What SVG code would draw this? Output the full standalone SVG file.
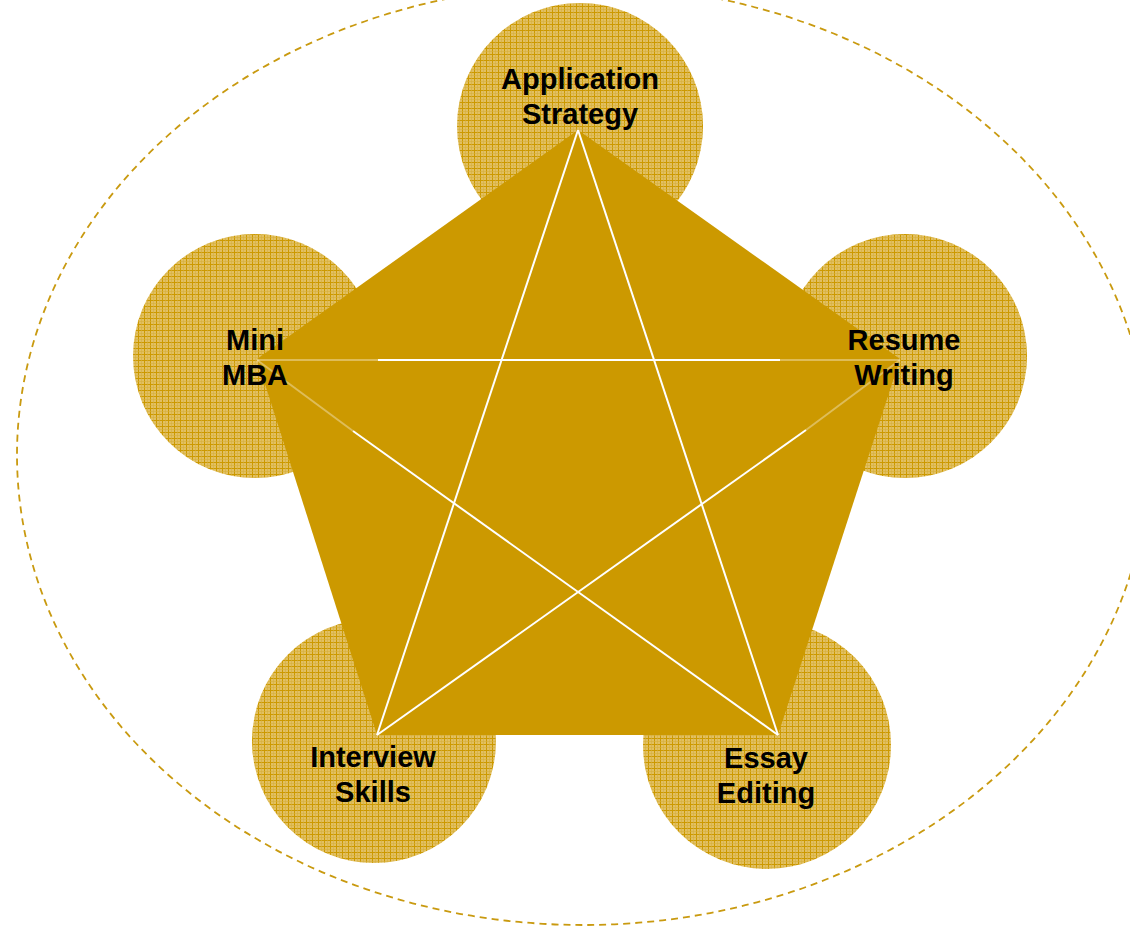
<svg xmlns="http://www.w3.org/2000/svg" width="1130" height="928" viewBox="0 0 1130 928">
<style>
.lbl{font-family:"Liberation Sans",Arial,sans-serif;font-weight:bold;font-size:29px;fill:#000;text-anchor:middle}
.circ{fill:url(#hatch)}
.star{stroke:#fff;stroke-width:2;fill:none}
.faint{stroke:#fff;stroke-width:2;stroke-opacity:0.35;fill:none}
</style>
<defs>
<pattern id="hatch" patternUnits="userSpaceOnUse" width="6" height="6">
<rect width="6" height="6" fill="#E2C062"/>
<path d="M0 0.5H6M0.5 0V6" stroke="#CC9900" stroke-width="1"/>
<path d="M0 3.5H6M3.5 0V6" stroke="#D6AE3A" stroke-width="0.6"/>
</pattern>
</defs>
<rect width="1130" height="928" fill="#fff"/>
<ellipse cx="583" cy="455" rx="566" ry="470" fill="none" stroke="#C99A10" stroke-width="1.8" stroke-dasharray="7 5"/>
<g id="node-application"><circle class="circ" cx="580" cy="126" r="123"/></g>
<g id="node-mini"><circle class="circ" cx="255" cy="356" r="122"/></g>
<g id="node-resume"><circle class="circ" cx="905" cy="356" r="122"/></g>
<g id="node-interview"><circle class="circ" cx="374" cy="741" r="122"/></g>
<g id="node-essay"><circle class="circ" cx="767" cy="745" r="124"/></g>
<g id="pentagon"><polygon points="578,130 900,359 778,735 377,735 257,359" fill="#CC9900"/></g>
<g id="connectors">
<line class="star" x1="578" y1="130" x2="377" y2="735"/>
<line class="star" x1="578" y1="130" x2="778" y2="735"/>
<line class="faint" x1="257" y1="360" x2="378" y2="360"/>
<line class="star" x1="378" y1="360" x2="780" y2="360"/>
<line class="faint" x1="780" y1="360" x2="900" y2="360"/>
<line class="faint" x1="257" y1="360" x2="353" y2="431"/>
<line class="star" x1="353" y1="431" x2="778" y2="735"/>
<line class="faint" x1="900" y1="360" x2="806" y2="430"/>
<line class="star" x1="806" y1="430" x2="377" y2="735"/>
</g>
<g id="labels">
<text class="lbl" x="580" y="89">Application</text>
<text class="lbl" x="580" y="124">Strategy</text>
<text class="lbl" x="255" y="350">Mini</text>
<text class="lbl" x="255" y="385">MBA</text>
<text class="lbl" x="904" y="350">Resume</text>
<text class="lbl" x="904" y="385">Writing</text>
<text class="lbl" x="373" y="767">Interview</text>
<text class="lbl" x="373" y="802">Skills</text>
<text class="lbl" x="766" y="768">Essay</text>
<text class="lbl" x="766" y="803">Editing</text>
</g>
</svg>
